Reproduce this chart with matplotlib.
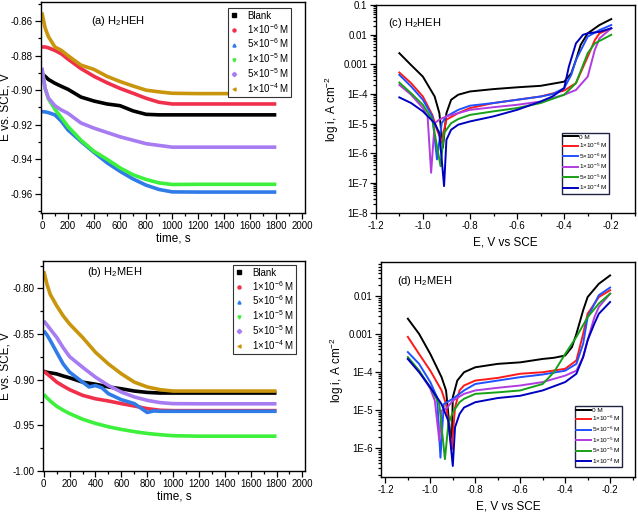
import matplotlib
matplotlib.use("Agg")
import matplotlib.pyplot as plt
from matplotlib.lines import Line2D
from matplotlib.ticker import MultipleLocator, FixedLocator, FixedFormatter, LogLocator, NullFormatter
import numpy as np

plt.rcParams['font.family'] = ['Liberation Sans', 'DejaVu Sans']
plt.rcParams['axes.unicode_minus'] = False
plt.rcParams['mathtext.fontset'] = 'custom'
plt.rcParams['mathtext.rm'] = 'Liberation Sans'
plt.rcParams['mathtext.it'] = 'Liberation Sans:italic'
plt.rcParams['mathtext.bf'] = 'Liberation Sans:bold'

# ---------------- Panel (a): OCP vs time, H2HEH ----------------
t_a = [0, 25, 50, 100, 150, 200, 300, 400, 500, 600, 700, 800, 900, 1000, 1200, 1400, 1600, 1800]
a_blank = [-0.8905, -0.892, -0.8938, -0.896, -0.8978, -0.8995, -0.904, -0.9063, -0.908, -0.909, -0.912, -0.914, -0.9143, -0.9143, -0.9143, -0.9143, -0.9143, -0.9143]
a_1e6 = [-0.875, -0.875, -0.8755, -0.877, -0.879, -0.882, -0.8875, -0.892, -0.8957, -0.899, -0.9018, -0.9047, -0.907, -0.908, -0.908, -0.908, -0.908, -0.908]
a_5e6 = [-0.9124, -0.9126, -0.913, -0.9143, -0.918, -0.923, -0.9297, -0.936, -0.942, -0.947, -0.9514, -0.955, -0.9575, -0.9589, -0.959, -0.959, -0.959, -0.959]
a_1e5 = [-0.8875, -0.899, -0.905, -0.911, -0.916, -0.921, -0.929, -0.9354, -0.940, -0.945, -0.949, -0.9517, -0.9537, -0.9546, -0.9545, -0.9545, -0.9545, -0.9545]
a_5e5 = [-0.887, -0.899, -0.9045, -0.909, -0.9115, -0.9134, -0.919, -0.922, -0.9245, -0.927, -0.929, -0.931, -0.932, -0.933, -0.933, -0.933, -0.933, -0.933]
a_1e4 = [-0.855, -0.864, -0.869, -0.875, -0.877, -0.880, -0.8855, -0.888, -0.892, -0.895, -0.8976, -0.900, -0.901, -0.9018, -0.902, -0.902, -0.902, -0.902]

# ---------------- Panel (b): OCP vs time, H2MEH ----------------
t_b = [0, 25, 50, 100, 150, 200, 300, 400, 500, 600, 700, 800, 900, 1000, 1200, 1400, 1600, 1800]
b_blank = [-0.8907, -0.892, -0.8925, -0.8937, -0.896, -0.898, -0.9027, -0.905, -0.908, -0.910, -0.9125, -0.914, -0.9147, -0.9147, -0.9147, -0.9147, -0.9147, -0.9147]
b_1e6 = [-0.8907, -0.8937, -0.8965, -0.9027, -0.907, -0.911, -0.9172, -0.921, -0.9234, -0.9263, -0.9289, -0.9318, -0.9336, -0.934, -0.934, -0.934, -0.934, -0.934]
t_b_5e6 = [0, 25, 50, 100, 150, 200, 300, 350, 400, 450, 500, 600, 700, 800, 850, 900, 1000, 1200, 1400, 1600, 1800]
b_5e6 = [-0.8465, -0.851, -0.857, -0.870, -0.8828, -0.8918, -0.9027, -0.908, -0.9065, -0.909, -0.9154, -0.922, -0.9263, -0.936, -0.9343, -0.9347, -0.9347, -0.9347, -0.9347, -0.9347, -0.9347]
b_1e5 = [-0.9161, -0.920, -0.9234, -0.9292, -0.9335, -0.9372, -0.9434, -0.948, -0.9517, -0.9546, -0.957, -0.959, -0.9604, -0.9615, -0.962, -0.962, -0.962, -0.962]
b_5e5 = [-0.8356, -0.840, -0.8446, -0.8537, -0.865, -0.8748, -0.8864, -0.8973, -0.9064, -0.9136, -0.919, -0.9227, -0.9252, -0.9263, -0.9265, -0.9265, -0.9265, -0.9265]
b_1e4 = [-0.781, -0.7956, -0.8065, -0.819, -0.830, -0.839, -0.8537, -0.870, -0.8828, -0.8936, -0.9027, -0.908, -0.911, -0.9125, -0.9125, -0.9125, -0.9125, -0.9125]

# ---------------- Panel (c): Tafel, H2HEH (E in V, log10 i) ----------------
c_0_E = [-1.1, -1.05, -1.0, -0.95, -0.93, -0.915, -0.9, -0.88, -0.85, -0.8, -0.7, -0.6, -0.5, -0.45, -0.4, -0.37, -0.35, -0.33, -0.3, -0.25, -0.2]
c_0_L = [-2.62, -3.02, -3.41, -4.08, -4.64, -5.8, -4.64, -4.19, -4.02, -3.91, -3.83, -3.77, -3.72, -3.65, -3.58, -3.3, -2.85, -2.34, -1.95, -1.67, -1.47]
c_1e6_E = [-1.1, -1.05, -1.0, -0.96, -0.94, -0.921, -0.9, -0.85, -0.8, -0.7, -0.6, -0.5, -0.4, -0.35, -0.3, -0.27, -0.25, -0.2]
c_1e6_L = [-3.27, -3.63, -4.08, -4.70, -5.2, -5.6, -4.86, -4.64, -4.47, -4.3, -4.19, -4.08, -3.88, -3.63, -2.74, -2.18, -1.95, -1.78]
c_5e6_E = [-1.1, -1.05, -1.0, -0.96, -0.94, -0.92, -0.9, -0.85, -0.8, -0.7, -0.6, -0.5, -0.45, -0.4, -0.37, -0.35, -0.3, -0.25, -0.2]
c_5e6_L = [-3.35, -3.74, -4.19, -4.75, -6.2, -4.98, -4.75, -4.53, -4.39, -4.3, -4.19, -4.08, -4.0, -3.8, -3.35, -2.85, -2.06, -1.84, -1.67]
c_1e5_E = [-1.1, -1.05, -1.0, -0.98, -0.965, -0.95, -0.93, -0.9, -0.85, -0.8, -0.7, -0.6, -0.5, -0.4, -0.35, -0.3, -0.27, -0.25, -0.2]
c_1e5_L = [-3.69, -4.02, -4.47, -4.75, -6.65, -4.98, -4.86, -4.75, -4.64, -4.53, -4.44, -4.36, -4.25, -4.02, -3.86, -3.41, -2.51, -2.12, -1.78]
c_5e5_E = [-1.1, -1.05, -1.0, -0.96, -0.925, -0.91, -0.88, -0.85, -0.8, -0.7, -0.6, -0.5, -0.4, -0.35, -0.3, -0.27, -0.2]
c_5e5_L = [-3.61, -3.97, -4.36, -4.86, -6.43, -5.31, -4.98, -4.84, -4.70, -4.58, -4.47, -4.3, -4.02, -3.63, -2.62, -2.29, -2.0]
c_1e4_E = [-1.1, -1.05, -1.0, -0.95, -0.93, -0.91, -0.9, -0.88, -0.85, -0.8, -0.7, -0.6, -0.5, -0.45, -0.4, -0.38, -0.35, -0.32, -0.3, -0.25, -0.2]
c_1e4_L = [-4.11, -4.3, -4.58, -4.98, -5.31, -7.1, -5.54, -5.2, -5.03, -4.92, -4.75, -4.53, -4.25, -4.08, -3.8, -3.07, -2.29, -2.0, -1.95, -1.9, -1.78]

# ---------------- Panel (d): Tafel, H2MEH ----------------
d_0_E = [-1.1, -1.05, -1.0, -0.95, -0.93, -0.905, -0.9, -0.88, -0.85, -0.8, -0.7, -0.6, -0.5, -0.45, -0.4, -0.37, -0.35, -0.32, -0.3, -0.25, -0.2]
d_0_L = [-2.59, -2.99, -3.52, -4.13, -4.48, -6.03, -4.66, -4.22, -4.0, -3.87, -3.78, -3.74, -3.65, -3.62, -3.56, -3.34, -2.99, -2.37, -2.02, -1.67, -1.45]
d_1e6_E = [-1.1, -1.05, -1.0, -0.95, -0.93, -0.905, -0.89, -0.87, -0.85, -0.8, -0.7, -0.6, -0.5, -0.4, -0.35, -0.32, -0.3, -0.25, -0.2]
d_1e6_L = [-3.07, -3.52, -3.96, -4.48, -4.84, -6.03, -4.93, -4.48, -4.35, -4.22, -4.15, -4.04, -4.0, -3.91, -3.69, -2.99, -2.46, -2.02, -1.84]
d_5e6_E = [-1.1, -1.05, -1.0, -0.97, -0.955, -0.94, -0.92, -0.9, -0.85, -0.8, -0.7, -0.6, -0.5, -0.4, -0.35, -0.32, -0.3, -0.25, -0.2]
d_5e6_L = [-3.47, -3.78, -4.26, -4.66, -6.25, -4.84, -4.77, -4.7, -4.48, -4.31, -4.22, -4.13, -4.06, -3.96, -3.78, -3.25, -2.55, -1.97, -1.77]
d_1e5_E = [-1.1, -1.05, -1.0, -0.98, -0.96, -0.95, -0.93, -0.9, -0.85, -0.8, -0.7, -0.6, -0.5, -0.4, -0.35, -0.32, -0.3, -0.27, -0.25, -0.2]
d_1e5_L = [-3.65, -3.96, -4.44, -4.75, -5.8, -5.01, -4.97, -4.75, -4.57, -4.48, -4.41, -4.35, -4.26, -4.09, -3.96, -3.6, -3.16, -2.55, -2.28, -1.93]
d_5e5_E = [-1.1, -1.05, -1.0, -0.96, -0.935, -0.92, -0.9, -0.87, -0.85, -0.8, -0.7, -0.6, -0.5, -0.45, -0.4, -0.35, -0.3, -0.25, -0.2]
d_5e5_L = [-3.6, -3.96, -4.4, -4.84, -6.29, -5.37, -5.06, -4.79, -4.7, -4.57, -4.53, -4.48, -4.31, -4.0, -3.52, -3.07, -2.55, -2.19, -1.93]
d_1e4_E = [-1.1, -1.05, -1.0, -0.95, -0.92, -0.9, -0.89, -0.87, -0.85, -0.8, -0.7, -0.6, -0.5, -0.4, -0.35, -0.32, -0.3, -0.27, -0.25, -0.2]
d_1e4_L = [-3.65, -4.0, -4.4, -4.84, -5.28, -6.47, -5.45, -5.1, -4.93, -4.79, -4.68, -4.62, -4.48, -4.26, -4.04, -3.6, -3.16, -2.72, -2.46, -2.15]

ocp_labels = ['Blank', r'1$\times$10$^{-6}$ M', r'5$\times$10$^{-6}$ M', r'1$\times$10$^{-5}$ M',
              r'5$\times$10$^{-5}$ M', r'1$\times$10$^{-4}$ M']
tafel_labels = ['0 M', r'1$\times$10$^{-6}$ M', r'5$\times$10$^{-6}$ M', r'1$\times$10$^{-5}$ M',
                r'5$\times$10$^{-5}$ M', r'1$\times$10$^{-4}$ M']

ocp_colors = ['#000000', '#f0304a', '#2f7be8', '#3cf03c', '#a77cf2', '#c9950c']
ocp_markers = ['s', 'o', '^', 'v', 'D', '<']
tafel_colors = ['#000000', '#ff1a1a', '#2050ff', '#b03ce0', '#18a018', '#0000c0']

fig = plt.figure(figsize=(6.38, 5.14), dpi=100)

def style(ax):
    for s in ax.spines.values():
        s.set_linewidth(1.0)
    ax.tick_params(which='both', direction='out', top=False, right=False, labelsize=7, width=0.9, pad=2)
    ax.tick_params(which='major', length=4)
    ax.tick_params(which='minor', length=2)

def ocp_panel(rect, tlists, ys, ylim, ymaj, ymin, title, title_xy, leg_anchor, ylab_x):
    ax = fig.add_axes(rect)
    for t, y, c in zip(tlists, ys, ocp_colors):
        ax.plot(t, y, color=c, lw=2.6, solid_capstyle='butt')
    ax.set_xlim(-8, 2020)
    ax.set_ylim(*ylim)
    ax.xaxis.set_major_locator(MultipleLocator(200))
    ax.xaxis.set_minor_locator(MultipleLocator(100))
    ax.yaxis.set_major_locator(MultipleLocator(ymaj))
    ax.yaxis.set_minor_locator(MultipleLocator(ymin))
    style(ax)
    ax.set_xlabel('time, s', fontsize=8.5, labelpad=1)
    ax.set_ylabel('E vs. SCE, V', fontsize=8.5)
    ax.yaxis.set_label_coords(ylab_x, 0.5)
    ax.text(title_xy[0], title_xy[1], title, transform=ax.transAxes, fontsize=8)
    handles = [Line2D([], [], ls='none', marker=m, color=c, markersize=2.2) for m, c in zip(ocp_markers, ocp_colors)]
    leg = ax.legend(handles, ocp_labels, loc='upper left', bbox_to_anchor=leg_anchor, fontsize=7,
                    frameon=True, fancybox=False, framealpha=1, edgecolor='#333333',
                    handlelength=0.8, handletextpad=0.9, labelspacing=0.1, borderpad=0.25,
                    borderaxespad=0)
    leg.get_frame().set_linewidth(0.8)
    return ax

def tafel_panel(rect, Es, Ls, xlim, ylim, yticks, yticklabels, title, title_xy, leg_anchor):
    ax = fig.add_axes(rect)
    for E, L, c in zip(Es, Ls, tafel_colors):
        ax.plot(E, 10 ** np.array(L), color=c, lw=1.4)
    ax.set_yscale('log')
    ax.set_xlim(*xlim)
    ax.set_ylim(*ylim)
    ax.xaxis.set_major_locator(MultipleLocator(0.2))
    ax.xaxis.set_minor_locator(MultipleLocator(0.1))
    ax.xaxis.set_major_formatter(matplotlib.ticker.FuncFormatter(lambda v, p: '%.1f' % v))
    ax.yaxis.set_major_locator(FixedLocator(yticks))
    ax.yaxis.set_major_formatter(FixedFormatter(yticklabels))
    ax.yaxis.set_minor_locator(LogLocator(base=10, subs=np.arange(2, 10), numticks=20))
    ax.yaxis.set_minor_formatter(NullFormatter())
    style(ax)
    ax.set_xlabel('E, V vs SCE', fontsize=8.5, labelpad=4)
    ax.set_ylabel(r'log i, A cm$^{-2}$', fontsize=8.5, labelpad=2)
    ax.text(title_xy[0], title_xy[1], title, transform=ax.transAxes, fontsize=8)
    handles = [Line2D([], [], color=c, lw=1.4) for c in tafel_colors]
    leg = ax.legend(handles, tafel_labels, loc='upper left', bbox_to_anchor=leg_anchor, fontsize=4.6,
                    frameon=True, fancybox=False, framealpha=1, edgecolor='#222244',
                    handlelength=2.4, handletextpad=0.1, labelspacing=0.2, borderpad=0.2,
                    borderaxespad=0)
    leg.get_frame().set_linewidth(1.0)
    return ax

ocp_panel([0.064, 0.586, 0.414, 0.410],
          [t_a] * 6, [a_blank, a_1e6, a_5e6, a_1e5, a_5e5, a_1e4],
          (-0.971, -0.849), 0.02, 0.01, r'(a) H$_2$HEH', (0.19, 0.895), (0.708, 0.97), -0.11)

ocp_panel([0.067, 0.084, 0.411, 0.408],
          [t_b, t_b, t_b_5e6, t_b, t_b, t_b], [b_blank, b_1e6, b_5e6, b_1e5, b_5e5, b_1e4],
          (-1.0, -0.77), 0.05, 0.025, r'(b) H$_2$MEH', (0.17, 0.935), (0.725, 0.98), -0.12)

tafel_panel([0.589, 0.586, 0.406, 0.404],
            [c_0_E, c_1e6_E, c_5e6_E, c_1e5_E, c_5e5_E, c_1e4_E],
            [c_0_L, c_1e6_L, c_5e6_L, c_1e5_L, c_5e5_L, c_1e4_L],
            (-1.2, -0.1), (1e-8, 0.1),
            [1e-8, 1e-7, 1e-6, 1e-5, 1e-4, 1e-3, 1e-2, 1e-1],
            ['1E-8', '1E-7', '1E-6', '1E-5', '1E-4', '0.001', '0.01', '0.1'],
            r'(c) H$_2$HEH', (0.046, 0.9), (0.718, 0.385))

tafel_panel([0.597, 0.072, 0.398, 0.418],
            [d_0_E, d_1e6_E, d_5e6_E, d_1e5_E, d_5e5_E, d_1e4_E],
            [d_0_L, d_1e6_L, d_5e6_L, d_1e5_L, d_5e5_L, d_1e4_L],
            (-1.22, -0.09), (10 ** -6.76, 10 ** -1.1),
            [1e-6, 1e-5, 1e-4, 1e-3, 1e-2],
            ['1E-6', '1E-5', '1E-4', '0.001', '0.01'],
            r'(d) H$_2$MEH', (0.063, 0.9), (0.764, 0.33))

fig.savefig('out.png', dpi=100)
